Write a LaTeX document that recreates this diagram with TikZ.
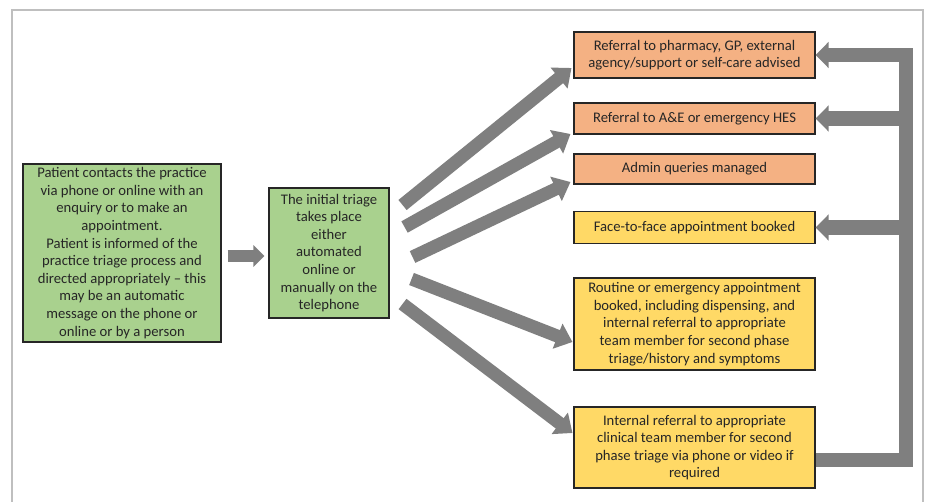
\documentclass[tikz,border=0pt]{standalone}
\usepackage{fontspec}
\setmainfont{Carlito}
\usepackage{tikz}
\usetikzlibrary{arrows.meta, calc}
\definecolor{boxgreen}{HTML}{A9D18E}
\definecolor{boxorange}{HTML}{F4B183}
\definecolor{boxyellow}{HTML}{FFD966}
\definecolor{arrowgray}{HTML}{7F7F7F}
\definecolor{framegray}{HTML}{BFBFBF}
\definecolor{textdark}{HTML}{262626}
\tikzstyle{basebox} = [rectangle, draw=black!85, line width=0.8pt, align=center, inner sep=2pt, text=textdark, font=\fontsize{11}{13.2}\selectfont]
\tikzstyle{startbox} = [basebox, fill=boxgreen]
\tikzstyle{outbox} = [basebox, fill=boxorange, minimum width=180.75pt]
\tikzstyle{bookbox} = [basebox, fill=boxyellow, minimum width=180.75pt]
\tikzstyle{fan} = [draw=arrowgray, line width=9.75pt, -{Triangle[length=12pt, width=19.5pt]}]
\tikzstyle{loop} = [draw=arrowgray, line width=11pt, -{Triangle[length=9.75pt, width=19pt]}]

\begin{document}
\begin{tikzpicture}[x=0.75pt, y=-0.75pt]

\useasboundingbox (0,0) rectangle (930,502);
\draw [framegray, line width=1.6pt] (12,10) rectangle (923,520);

% Nodes
\node (patient) [startbox, minimum width=148.5pt, minimum height=133.5pt] at (122,253)
{Patient contacts the practice\\via phone or online with an\\enquiry or to make an\\appointment.\\Patient is informed of the\\practice triage process and\\directed appropriately -- this\\may be an automatic\\message on the phone or\\online or by a person};

\node (triage) [startbox, minimum width=90pt, minimum height=97.5pt] at (329,253)
{The initial triage\\takes place\\either\\automated\\online or\\manually on the\\telephone};

\node (pharm) [outbox, minimum height=34.5pt] at (694.5,55)
{Referral to pharmacy, GP, external\\agency/support or self-care advised};

\node (ae) [outbox, minimum height=23.25pt] at (694.5,118.5)
{Referral to A\&E or emergency HES};

\node (admin) [outbox, minimum height=22.5pt] at (694.5,169)
{Admin queries managed};

\node (f2f) [bookbox, minimum height=24pt] at (694.5,227.5)
{Face-to-face appointment booked};

\node (routine) [bookbox, minimum height=69pt] at (694.5,324)
{Routine or emergency appointment\\booked, including dispensing, and\\internal referral to appropriate\\team member for second phase\\triage/history and symptoms};

\node (internal) [bookbox, minimum height=60.75pt] at (694.5,447.5)
{Internal referral to appropriate\\clinical team member for second\\phase triage via phone or video if\\required};

\coordinate (loopbot) at (906,460);
\coordinate (looptop) at (906,55);

% Arrows
\draw [draw=arrowgray, line width=9pt, -{Triangle[length=8.25pt, width=15.75pt]}]
  ($(patient.east)+(6,3)$) -- ($(triage.west)+(-4,3)$);

\draw [fan] ($(triage.east)+(13,-48)$) -- ($(pharm.west)+(-2,13)$);
\draw [fan] ($(triage.east)+(15,-26)$) -- ($(ae.west)+(-3,15.5)$);
\draw [fan] ($(triage.east)+(23,4)$) -- ($(admin.west)+(-3,13)$);
\draw [fan] ($(triage.east)+(22,26)$) -- ($(routine.west)+(-1,18)$);
\draw [fan] ($(triage.east)+(13,51)$) -- ($(internal.west)+(-1,-14.5)$);

\draw [loop] (internal.east |- loopbot) -- (loopbot) -- (looptop) -- (pharm.east);
\draw [loop] (looptop |- ae.east) -- (ae.east);
\draw [loop] (looptop |- f2f.east) -- (f2f.east);

\end{tikzpicture}
\end{document}
